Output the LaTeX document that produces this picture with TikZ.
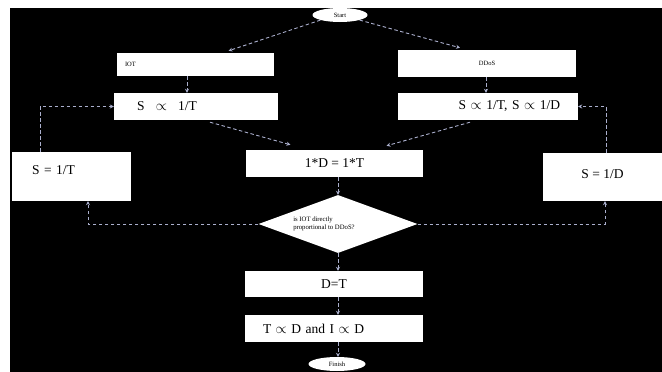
\documentclass[tikz,border=0pt]{standalone}
\usepackage{fontspec}
\setmainfont{Liberation Serif}
\usetikzlibrary{shapes.geometric,arrows.meta,calc}
\definecolor{linec}{RGB}{170,175,205}
\begin{document}
\begin{tikzpicture}[x=1pt,y=-1pt,
  box/.style={fill=white,draw=none,inner sep=0pt,font=\fontsize{13.5}{15}\selectfont},
  small/.style={font=\fontsize{6.5}{7.5}\selectfont},
  conn/.style={draw=linec,line width=0.9pt,dash pattern=on 3.5pt off 2.5pt,-{Stealth[length=4pt,width=4pt]}},
]
\useasboundingbox (0,0) rectangle (662,372);
\fill[white] (0,0) rectangle (662,372);
\fill[black] (10,8) rectangle (662,372);

\node[ellipse,fill=white,minimum width=55pt,minimum height=14pt,inner sep=0pt,small] (start) at (340,15) {Start};
\node[box,minimum width=157pt,minimum height=23pt,text width=141pt,align=left,inner xsep=8pt,small] (iot) at (195.5,64.5) {IOT};
\node[box,minimum width=178pt,minimum height=27pt,small] (ddos) at (487,63.5) {DDoS};
\node[box,minimum width=164pt,minimum height=27pt,text width=118pt,align=left,inner xsep=23pt] (s1) at (196,106.5) {S\enspace\ $\propto$\enspace\ 1/T};
\node[box,minimum width=180pt,minimum height=27pt,text width=144pt,align=right,inner xsep=18pt] (s2) at (488,106.5) {S $\propto$ 1/T, S $\propto$ 1/D};
\node[box,minimum width=177pt,minimum height=27pt] (eq) at (334.5,163.5) {1*D = 1*T};
\node[box,minimum width=119pt,text height=22pt,text depth=27pt,text width=79pt,align=left,inner xsep=20pt] (sT) at (71.5,176.5) {S = 1/T};
\node[box,minimum width=119pt,text height=25pt,text depth=23pt] (sD) at (602.5,177) {S = 1/D};
\node[diamond,fill=white,inner sep=0pt,minimum width=159pt,minimum height=58pt,font=\fontsize{6.7}{8}\selectfont] (dia) at (338,224) {\makebox[0pt]{\kern-28pt\begin{tabular}{@{}l@{}}is IOT directly\\proportional to DDoS?\end{tabular}}};
\node[box,minimum width=178pt,minimum height=26pt] (dt) at (334,284) {D=T};
\node[box,minimum width=178pt,minimum height=27pt,text width=142pt,align=left,inner xsep=18pt] (td) at (334,328.5) {T $\propto$ D and I $\propto$ D};
\node[ellipse,fill=white,minimum width=57pt,minimum height=14pt,inner sep=0pt,small] (fin) at (337,364) {Finish};

\coordinate (vl) at (187,0);
\coordinate (vr) at (486,0);
\coordinate (vc) at (338,0);
\coordinate (bl) at (88,0);
\coordinate (br) at (605,0);
\coordinate (tl) at (40,0);
\coordinate (tr) at (606,0);

\draw[conn] (start.south west) -- ($(iot.north)+(33,-2)$);
\draw[conn] (start.south east) -- ($(ddos.north)+(-27,-2)$);
\draw[conn] (iot.south -| vl) -- (s1.north -| vl);
\draw[conn] (ddos.south -| vr) -- (s2.north -| vr);
\draw[conn] ($(s1.south)+(14,2)$) -- ($(eq.north)+(-44,-5)$);
\draw[conn] ($(s2.south)+(-18,2)$) -- ($(eq.north)+(52,-4)$);
\draw[conn] (eq.south -| vc) -- (dia.north);
\draw[conn] (dia.west) -| (sT.south -| bl);
\draw[conn] (dia.east) -| (sD.south -| br);
\draw[conn] (sT.north -| tl) |- (s1.west);
\draw[conn] (sD.north -| tr) |- (s2.east);
\draw[conn] (dia.south) -- (dt.north -| vc);
\draw[conn] (dt.south -| vc) -- (td.north -| vc);
\draw[conn] (td.south -| vc) -- (fin.north -| vc);
\end{tikzpicture}
\end{document}
